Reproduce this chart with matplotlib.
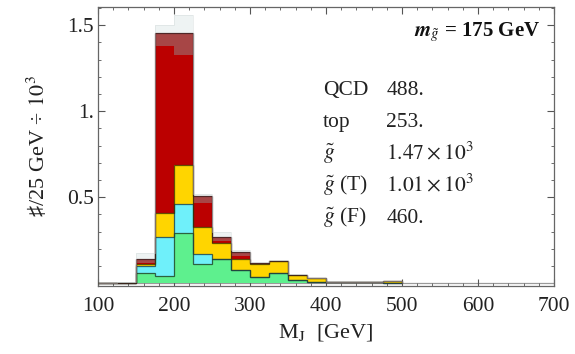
import numpy as np
import matplotlib
matplotlib.use("Agg")
import matplotlib.pyplot as plt

plt.rcParams['font.family'] = ['Liberation Serif', 'DejaVu Sans']
plt.rcParams['mathtext.fontset'] = 'stix'

# 25 GeV bins, left edges
bin_lo = [100, 125, 150, 175, 200, 225, 250, 275, 300, 325, 350, 375, 400, 425, 450, 475]
bin_w = 25

# cumulative stack tops (units of 10^3 per 25 GeV)
gl_F = [0.0, 0.0, 0.060, 0.040, 0.289, 0.113, 0.143, 0.074, 0.037, 0.058, 0.017, 0.005, 0.008, 0.007, 0.005, 0.0]
gl_T = [0.0, 0.0, 0.097, 0.266, 0.459, 0.168, 0.143, 0.074, 0.037, 0.058, 0.017, 0.005, 0.008, 0.007, 0.005, 0.0]
top_q = [0.0, 0.0, 0.110, 0.410, 0.686, 0.324, 0.231, 0.143, 0.112, 0.126, 0.047, 0.027, 0.008, 0.007, 0.005, 0.013]
qcd = [0.0, 0.0, 0.118, 1.378, 1.326, 0.463, 0.245, 0.160, 0.112, 0.126, 0.047, 0.027, 0.008, 0.007, 0.005, 0.013]
qcd_hi = [0.0, 0.0, 0.138, 1.452, 1.452, 0.506, 0.267, 0.182, 0.116, 0.131, 0.050, 0.030, 0.008, 0.007, 0.005, 0.013]
envelope = [0.003, 0.006, 0.173, 1.500, 1.558, 0.520, 0.300, 0.190, 0.120, 0.135, 0.052, 0.031, 0.009, 0.008, 0.006, 0.014]

legend_names = ['QCD', 'top', r'$\tilde{g}$', r'$\tilde{g}$ (T)', r'$\tilde{g}$ (F)']
legend_vals = ['488.', '253.', r'$1.47\times10^{3}$', r'$1.01\times10^{3}$', '460.']

layers = [
    (None, gl_F, '#5ef08e', 1.0),
    (gl_F, gl_T, '#6ff0fa', 1.0),
    (gl_T, top_q, '#ffd500', 1.0),
    (top_q, qcd, '#bb0000', 1.0),
    (qcd, qcd_hi, '#a23c3c', 0.95),
    (qcd_hi, envelope, '#e4ecec', 0.6),
]

fig = plt.figure(figsize=(5.75, 3.54), dpi=100)
ax = fig.add_axes([0.1704, 0.192, 0.7931, 0.788])

x = np.array(bin_lo)
for lo, hi, col, a in layers:
    lo_v = np.zeros(len(x)) if lo is None else np.array(lo)
    h = np.array(hi) - lo_v
    ax.bar(x, h, width=bin_w, bottom=lo_v, align='edge', color=col, alpha=a,
           edgecolor='none', linewidth=0, zorder=2)

# outlines of each stacked level
edges = np.append(x, x[-1] + bin_w)
for lvl, c in [(gl_F, '#1f3f2a'), (gl_T, '#1f3f40'), (top_q, '#3a3000'), (qcd_hi, '#3a2020')]:
    ax.stairs(lvl, edges, color=c, lw=0.9, alpha=0.8, zorder=3)
ax.stairs(envelope, edges, color='#d0d8d8', lw=0.6, alpha=0.5, zorder=3)

ax.axhline(0, color='#9a9a9a', lw=0.9, zorder=1)

ax.set_xlim(100, 700)
ax.set_ylim(-0.017, 1.605)
ax.set_xticks(np.arange(100, 701, 100))
ax.set_xticks(np.arange(100, 701, 20), minor=True)
ax.set_yticks([0.5, 1.0, 1.5])
ax.set_yticklabels(['0.5', '1.', '1.5'])
ax.set_yticks(np.arange(0.1, 1.61, 0.1), minor=True)
ax.tick_params(which='both', direction='in', top=True, right=True, colors='#555555',
               labelcolor='#222222', labelsize=15.5)
ax.tick_params(which='major', length=5, width=0.8)
ax.tick_params(which='minor', length=2.5, width=0.6)
ax.tick_params(axis='x', pad=8)
ax.tick_params(axis='y', pad=3)
for s in ax.spines.values():
    s.set_color('#666666')
    s.set_linewidth(0.9)

ax.set_xlabel(r'M$_\mathrm{J}$  [GeV]', fontsize=16, color='#222222', labelpad=4)
ax.set_ylabel(r'♯/25 GeV ÷ $10^{3}$', fontsize=16, color='#222222', labelpad=12)

ax.text(0.969, 0.895, r'$\mathbfit{m}_{\tilde{g}}$ = 175 GeV', transform=ax.transAxes,
        ha='right', va='baseline', fontsize=15, fontweight='bold', color='#111111')

for i, (nm, val) in enumerate(zip(legend_names, legend_vals)):
    yy = 0.6846 - i * 0.1147
    ax.text(0.493, yy, nm, transform=ax.transAxes, ha='left', va='baseline',
            fontsize=15.5, color='#222222')
    ax.text(0.632, yy, val, transform=ax.transAxes, ha='left', va='baseline',
            fontsize=15.5, color='#222222')

fig.savefig('out.png', dpi=100)
